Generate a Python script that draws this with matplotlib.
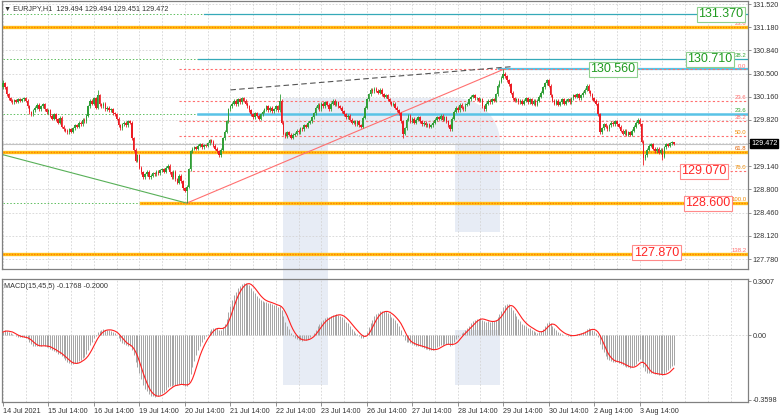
import numpy as np
import pandas as pd
import matplotlib
matplotlib.use("Agg")
import matplotlib.pyplot as plt
from matplotlib.patches import Polygon, Rectangle

plt.rcParams["font.family"] = ["Liberation Sans", "DejaVu Sans"]

W, H = 782, 415

# ---- data --------------------------------------------------------------
symbol_text = "\u25bc EURJPY,H1  129.494 129.494 129.451 129.472"
macd_text = "MACD(15,45,5) -0.1768 -0.2000"
bid = 129.472

# hourly closes, 14 Jul 14:00 .. 4 Aug 08:00
jul14 = [130.36, 130.30, 130.20, 130.14, 130.10, 130.08, 130.11, 130.09, 130.12, 130.10]
jul15 = [130.12, 130.14, 130.10, 130.02, 129.93, 129.90, 129.96, 130.00, 130.04, 129.98, 130.02, 130.05,
         129.98, 129.93, 129.96, 129.88, 129.84, 129.90, 129.83, 129.78, 129.85, 129.72, 129.68, 129.66]
jul16 = [129.64, 129.68, 129.65, 129.70, 129.74, 129.72, 129.78, 129.76, 129.82, 129.80, 129.88, 130.02,
         130.10, 130.06, 130.14, 130.00, 130.18, 130.05, 130.02, 130.06, 129.98, 130.00, 129.96, 129.98]
jul19 = [129.92, 129.90, 129.84, 129.74, 129.70, 129.76, 129.78, 129.74, 129.80, 129.78, 129.55, 129.38,
         129.22, 129.30, 129.12, 129.05, 128.98, 129.02, 129.06, 128.98, 129.00, 129.04, 129.02, 129.06]
jul20 = [129.04, 129.08, 129.10, 129.06, 129.12, 129.15, 129.05, 128.98, 129.06, 128.95, 128.90, 129.00,
         128.92, 128.82, 128.78, 128.84, 129.10, 129.36, 129.40, 129.42, 129.40, 129.44, 129.46, 129.42]
jul21 = [129.45, 129.44, 129.48, 129.52, 129.50, 129.44, 129.40, 129.36, 129.30, 129.38, 129.55, 129.65,
         129.80, 129.98, 130.02, 130.06, 130.10, 130.05, 130.12, 130.08, 130.14, 130.10, 130.06, 130.02]
jul22 = [129.96, 129.90, 129.86, 129.92, 129.88, 129.84, 129.90, 129.94, 129.98, 130.02, 129.96, 130.00,
         129.95, 129.98, 130.02, 129.96, 130.10, 129.78, 129.62, 129.58, 129.64, 129.60, 129.56, 129.60]
jul23 = [129.62, 129.66, 129.64, 129.70, 129.68, 129.74, 129.72, 129.78, 129.80, 129.86, 129.92, 130.00,
         130.04, 129.98, 130.06, 130.02, 130.08, 130.04, 129.98, 130.06, 130.10, 130.04, 130.08, 130.02]
jul26 = [130.00, 129.95, 129.90, 129.86, 129.88, 129.82, 129.78, 129.80, 129.76, 129.80, 129.74, 129.72,
         129.85, 130.00, 130.12, 130.20, 130.26, 130.24, 130.28, 130.25, 130.22, 130.26, 130.20, 130.16]
jul27 = [130.18, 130.12, 130.08, 130.04, 130.06, 130.00, 129.96, 129.92, 129.80, 129.62, 129.70, 129.82,
         129.88, 129.80, 129.84, 129.78, 129.82, 129.86, 129.80, 129.76, 129.78, 129.74, 129.76, 129.72]
jul28 = [129.74, 129.78, 129.82, 129.86, 129.84, 129.88, 129.82, 129.86, 129.80, 129.74, 129.68, 129.84,
         129.94, 130.00, 129.96, 130.04, 130.00, 129.98, 130.04, 130.06, 130.12, 130.16, 130.18, 130.14]
jul29 = [130.14, 130.10, 130.12, 130.02, 129.98, 130.06, 130.10, 130.08, 130.12, 130.10, 130.20, 130.32,
         130.38, 130.44, 130.50, 130.46, 130.40, 130.34, 130.22, 130.14, 130.10, 130.12, 130.08, 130.10]
jul30 = [130.06, 130.10, 130.14, 130.08, 130.12, 130.06, 130.10, 130.04, 130.10, 130.16, 130.22, 130.30,
         130.36, 130.40, 130.32, 130.18, 130.10, 130.06, 130.10, 130.04, 130.08, 130.12, 130.06, 130.10]
aug02 = [130.12, 130.08, 130.14, 130.18, 130.16, 130.20, 130.14, 130.18, 130.22, 130.26, 130.32, 130.24,
         130.20, 130.14, 130.10, 130.06, 129.90, 129.64, 129.70, 129.76, 129.72, 129.68, 129.74, 129.78]
aug03 = [129.76, 129.80, 129.76, 129.72, 129.66, 129.62, 129.66, 129.60, 129.64, 129.60, 129.66, 129.72,
         129.78, 129.82, 129.76, 129.50, 129.26, 129.30, 129.38, 129.44, 129.46, 129.40, 129.36, 129.40]
aug04 = [129.34, 129.38, 129.28, 129.42, 129.46, 129.44, 129.48, 129.494, 129.472]

first_open = 130.30
prior_close = 130.15  # level before the window, seeds the EMAs
wick_highs = {0: 130.40, 50: 130.26, 146: 130.20, 264: 130.56, 354: 129.494}
wick_lows = {97: 128.60, 211: 129.55, 338: 129.16, 348: 129.23, 354: 129.451}

price_ticks = [131.520, 131.180, 130.840, 130.500, 130.160, 129.820,
               129.480, 129.140, 128.800, 128.460, 128.120, 127.780]
macd_ticks = [0.3007, 0.0, -0.3598]
macd_tick_labels = ["0.3007", "0.00", "-0.3598"]
date_labels = ["14 Jul 2021", "15 Jul 14:00", "16 Jul 14:00", "19 Jul 14:00", "20 Jul 14:00",
               "21 Jul 14:00", "22 Jul 14:00", "23 Jul 14:00", "26 Jul 14:00", "27 Jul 14:00",
               "28 Jul 14:00", "29 Jul 14:00", "30 Jul 14:00", "2 Aug 14:00", "3 Aug 14:00"]

# fibo grid from 128.600 (low) to 130.560 (high)
fib_low, fib_high = 128.600, 130.560
fib_ratios = [0.0, 23.6, 38.2, 50.0, 61.8, 76.0, 100.0, 138.2]
target_up = [131.370, 130.710, 130.560]
target_down = [129.070, 128.600, 127.870]
resist_a, resist_b = 131.180, 129.910

# ---- styles --------------------------------------------------------------
GREEN_C = "#2f9e36"
RED_C = "#ec1c24"
ORANGE = "#ffc21a"
ORANGE_DOT = "#ff7b00"
FIB_RED = "#ff6f6f"
TEAL = "#35a9b8"
LBLUE = "#59c3e6"
GRID = "#d4d4d4"
WICK = 0.022
PX_PER_BAR = 1.895
PLOT_R = 748


def px_rect(l, t, r, b):
    return [l / W, 1 - b / H, (r - l) / W, (b - t) / H]


closes = np.array(jul14 + jul15 + jul16 + jul19 + jul20 + jul21 + jul22 + jul23 + jul26
                  + jul27 + jul28 + jul29 + jul30 + aug02 + aug03 + aug04)
n = len(closes)
idx = np.arange(n)
opens = np.r_[first_open, closes[:-1]]
highs = np.maximum(opens, closes) + WICK
lows = np.minimum(opens, closes) - WICK
for i, v in wick_highs.items():
    highs[i] = v
for i, v in wick_lows.items():
    lows[i] = v

s = pd.Series(np.r_[prior_close, closes])
macd = (s.ewm(span=15, adjust=False).mean() - s.ewm(span=45, adjust=False).mean()).values[1:]
signal = pd.Series(macd).rolling(5, min_periods=1).mean().values

fig = plt.figure(figsize=(W / 100, H / 100), dpi=100)

# watermark logo behind the panels
bg = fig.add_axes([0, 0, 1, 1], zorder=0)
bg.set_xlim(0, W)
bg.set_ylim(H, 0)
bg.axis("off")
th = np.linspace(np.pi / 2, 0, 20)
arc = [(455 + 45 * np.cos(t), 143 - 45 * np.sin(t)) for t in th]
logo = [(283, 98)] + arc + [(500, 232), (455, 232), (455, 143), (328, 143), (328, 385), (283, 385)]
bg.add_patch(Polygon(logo, closed=True, fc="#e7ecf5", ec="none"))
bg.add_patch(Rectangle((455, 330), 45, 55, fc="#e7ecf5", ec="none"))

ax = fig.add_axes(px_rect(2, 1, PLOT_R, 269), zorder=1)
ax2 = fig.add_axes(px_rect(2, 279, PLOT_R, 402), zorder=1, sharex=ax)
for a in (ax, ax2):
    a.set_facecolor("none")
    for sp in a.spines.values():
        sp.set_color("#808080")
        sp.set_linewidth(0.9)

x_right = (PLOT_R - 2) / PX_PER_BAR - 0.5
ax.set_xlim(-0.5, x_right)
ax.set_ylim(127.634, 131.564)

grid_x = np.arange(0, n + 40, 12)
for a in (ax, ax2):
    for gx in grid_x:
        a.axvline(gx, color=GRID, lw=0.6, dashes=(2, 2), zorder=0.5)
for p in price_ticks:
    ax.axhline(p, color=GRID, lw=0.6, dashes=(2, 2), zorder=0.5)
ax2.axhline(0, color=GRID, lw=0.6, dashes=(2, 2), zorder=0.5)


def level(price, start, color, lw, dashes=None, z=2):
    kw = dict(color=color, lw=lw, zorder=z)
    if dashes:
        kw["dashes"] = dashes
    ax.plot([start, x_right], [price, price], **kw)


def thick(price, start):
    level(price, start, ORANGE, 2.4, z=2.2)
    level(price, start, ORANGE_DOT, 1.0, dashes=(1, 1), z=2.3)


# green dotted lead-ins and trend targets
level(target_up[0], 0, "#5fbf5f", 0.7, dashes=(1.5, 2))
level(target_up[0], 106, TEAL, 0.9)
level(target_up[1], 0, "#5fbf5f", 0.7, dashes=(1.5, 2))
level(target_up[1], 103, TEAL, 0.9)
level(target_up[2], 262, LBLUE, 1.6)
level(resist_b, 0, "#5fbf5f", 0.7, dashes=(1.5, 2))
level(resist_b, 103, LBLUE, 1.8)
level(fib_low, 0, "#5fbf5f", 0.7, dashes=(1.5, 2))

fib_prices = [fib_high - r / 100 * (fib_high - fib_low) for r in fib_ratios]
for r, p in zip(fib_ratios, fib_prices):
    if r in (61.8, 138.2):
        continue
    if r == 100.0:
        thick(p, 73)
    else:
        level(p, 93, FIB_RED, 0.8, dashes=(2, 2))
thick(resist_a, 0)
thick(fib_prices[4], 0)
thick(fib_prices[7], 0)

ax.axhline(bid, color="#c3c3c3", lw=0.8, zorder=1.5)

# trend lines
ax.plot([0, 97], [129.31, fib_low], color="#58b058", lw=0.8, zorder=2.5)
ax.plot([97, 264], [fib_low, fib_high], color="#ff7070", lw=0.8, zorder=2.5)
ax.plot([120, 268], [130.26, 130.60], color="#555555", lw=0.8, dashes=(5, 3), zorder=2.5)

# candles
up = closes >= opens
cols = np.where(up, GREEN_C, RED_C)
ax.vlines(idx, lows, highs, colors=cols, lw=0.6, zorder=3)
ax.bar(idx, np.maximum(np.abs(closes - opens), 0.006), bottom=np.minimum(opens, closes),
       width=0.8, color=cols, lw=0, zorder=3.1)

# fibo level captions at the right edge
cap = [(resist_a, "23.6", FIB_RED), (target_up[1], "38.2", "#36a636"),
       (fib_prices[0], "0.0", FIB_RED), (fib_prices[1], "23.6", FIB_RED),
       (resist_b, "23.6", "#36a636"), (fib_prices[2], "38.2", FIB_RED),
       (fib_prices[3], "50.0", "#f08a00"), (fib_prices[4], "61.8", "#e06000"),
       (fib_prices[5], "76.0", "#f08a00"), (fib_prices[6], "100.0", "#f08a00"),
       (fib_prices[7], "138.2", FIB_RED)]
for p, t, c in cap:
    ax.text(x_right - 0.8, p + 0.012, t, color=c, fontsize=4.3, ha="right", va="bottom", zorder=4)

box_left = [367, 361, 310]
for p, bx in zip(target_up, box_left):
    ax.text(bx, p, f"{p:.3f}", color="#1f9a1f", fontsize=9, ha="left", va="center", zorder=5,
            bbox=dict(boxstyle="square,pad=0.12", fc="white", ec="#8fd08f", lw=0.8))
box_left = [358, 360, 333]
for p, bx in zip(target_down, box_left):
    ax.text(bx, p, f"{p:.3f}", color="#ff2626", fontsize=9, ha="left", va="center", zorder=5,
            bbox=dict(boxstyle="square,pad=0.12", fc="white", ec="#ff8a8a", lw=0.8))

# price axis on the right (the bid label covers the nearest tick label)
ax.yaxis.tick_right()
ax.set_yticks(price_ticks)
ax.set_yticklabels(["" if abs(p - bid) < 0.05 else f"{p:.3f}" for p in price_ticks])
ax.tick_params(axis="y", length=2, width=0.6, color="#808080", labelsize=5.2,
               labelcolor="#333333", pad=1.5)
ax.tick_params(axis="x", bottom=False, labelbottom=False)
ax.text(1.004, bid, f"{bid:.3f}", transform=ax.get_yaxis_transform(), color="white",
        fontsize=5.2, ha="left", va="center",
        bbox=dict(boxstyle="square,pad=0.15", fc="black", ec="black"))
ax.text(0.003, 0.985, symbol_text, transform=ax.transAxes, fontsize=5.2, color="#333333",
        ha="left", va="top")

# MACD window
ax2.vlines(idx, 0, macd, colors="#a4a4a4", lw=0.7, zorder=2)
ax2.plot(idx, signal, color="#ff2020", lw=0.8, zorder=3)
ax2.set_ylim(-0.372, 0.313)
ax2.yaxis.tick_right()
ax2.set_yticks(macd_ticks)
ax2.set_yticklabels(macd_tick_labels)
ax2.tick_params(axis="y", length=2, width=0.6, color="#808080", labelsize=5.2,
                labelcolor="#333333", pad=1.5)
ax2.text(0.003, 0.97, macd_text, transform=ax2.transAxes, fontsize=5.2, color="#333333",
         ha="left", va="top")

ax2.set_xticks(np.arange(len(date_labels)) * 24)
ax2.set_xticklabels(date_labels, ha="left")
ax2.tick_params(axis="x", length=3, width=0.6, color="#808080", labelsize=5.2,
                labelcolor="#333333", pad=1)

fig.savefig("out.png", dpi=100)
